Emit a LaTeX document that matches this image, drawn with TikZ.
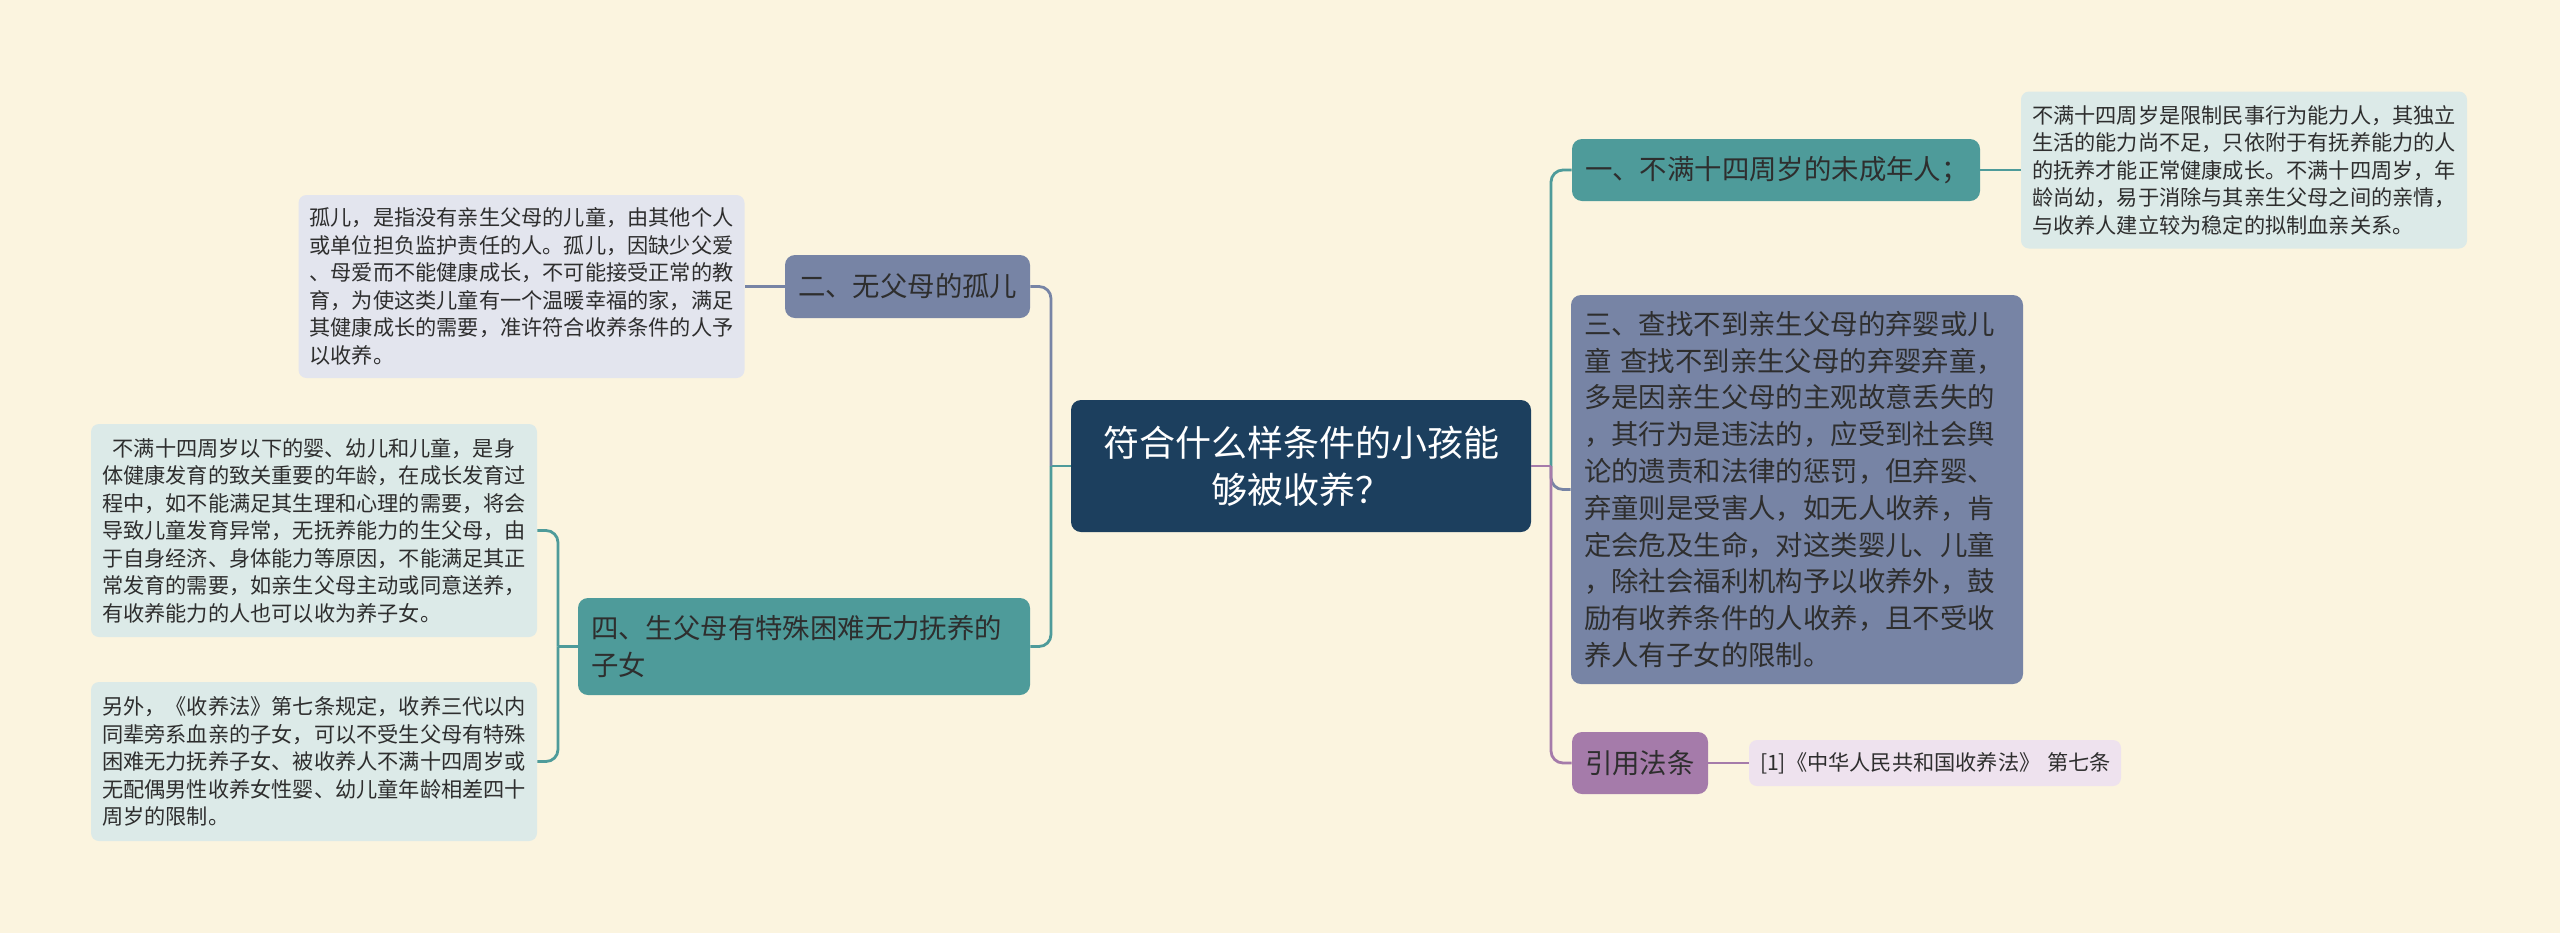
\documentclass[tikz,border=0pt]{standalone}
\usepackage{fontspec}
\setmainfont{Noto Sans CJK SC}
\definecolor{bg}{HTML}{FBF4DF}
\definecolor{navy}{HTML}{1C3F5E}
\definecolor{teal}{HTML}{4E9B9A}
\definecolor{slate}{HTML}{7784A5}
\definecolor{purp}{HTML}{A57BAA}
\definecolor{leafteal}{HTML}{DCEAE8}
\definecolor{leafslate}{HTML}{E3E5EE}
\definecolor{leafpurp}{HTML}{EEE2EE}
\definecolor{txt}{HTML}{2E2E2E}
\tikzset{
  rootnode/.style={fill=navy, text=white, rounded corners=5pt, align=center, inner sep=0pt,
    font=\fontsize{18pt}{23.5pt}\selectfont},
  mainnode/.style={rounded corners=5pt, inner xsep=6.5pt, inner ysep=0pt, align=left, text=txt,
    font=\fontsize{13.7pt}{18.4pt}\selectfont},
  leafnode/.style={rounded corners=4pt, inner xsep=5.5pt, inner ysep=0pt, align=left, text=txt,
    font=\fontsize{10.6pt}{13.75pt}\selectfont},
  conn/.style={line width=1.4pt},
  rc/.style={rounded corners=6pt}
}
\begin{document}
\begin{tikzpicture}[x=0.5pt,y=-0.5pt]
\fill[bg] (0,0) rectangle (2560,933);
\useasboundingbox (0,0) rectangle (2560,933);

% root
\node[rootnode, minimum width=230pt, minimum height=66pt] (c) at (1301,466) {符合什么样条件的小孩能\\够被收养？};

% right branches
\node[mainnode, fill=teal, text width=191pt, minimum height=31pt] (n1) at (1776,170) {一、不满十四周岁的未成年人；};
\node[mainnode, fill=slate, text width=213pt, minimum height=194.5pt] (n3) at (1797,489.5) {三、查找不到亲生父母的弃婴或儿\\童 查找不到亲生父母的弃婴弃童，\\多是因亲生父母的主观故意丢失的\\，其行为是违法的，应受到社会舆\\论的遗责和法律的惩罚，但弃婴、\\弃童则是受害人，如无人收养，肯\\定会危及生命，对这类婴儿、儿童\\，除社会福利机构予以收养外，鼓\\励有收养条件的人收养，且不受收\\养人有子女的限制。};
\node[mainnode, fill=purp, text width=55pt, minimum height=31pt] (n5) at (1640,763) {引用法条};

% left branches
\node[mainnode, fill=slate, text width=109.5pt, minimum height=31.5pt] (n2) at (907.5,286.5) {二、无父母的孤儿};
\node[mainnode, fill=teal, text width=213pt, minimum height=48.5pt] (n4) at (804,646.5) {四、生父母有特殊困难无力抚养的\\子女};

% leaves
\node[leafnode, fill=leafteal, text width=212pt, minimum height=78.5pt] (l1) at (2244,170) {不满十四周岁是限制民事行为能力人，其独立\\生活的能力尚不足，只依附于有抚养能力的人\\的抚养才能正常健康成长。不满十四周岁，年\\龄尚幼，易于消除与其亲生父母之间的亲情，\\与收养人建立较为稳定的拟制血亲关系。};
\node[leafnode, fill=leafpurp, text width=175pt, minimum height=23pt] (l5) at (1935,763) {[1]《中华人民共和国收养法》~第七条};
\node[leafnode, fill=leafslate, text width=212pt, minimum height=91.5pt] (l2) at (521.5,286.5) {孤儿，是指没有亲生父母的儿童，由其他个人\\或单位担负监护责任的人。孤儿，因缺少父爱\\、母爱而不能健康成长，不可能接受正常的教\\育，为使这类儿童有一个温暖幸福的家，满足\\其健康成长的需要，准许符合收养条件的人予\\以收养。};
\node[leafnode, fill=leafteal, text width=212pt, minimum height=106.5pt] (l4a) at (314,530.5) {\hspace{0.5em}不满十四周岁以下的婴、幼儿和儿童，是身\\体健康发育的致关重要的年龄，在成长发育过\\程中，如不能满足其生理和心理的需要，将会\\导致儿童发育异常，无抚养能力的生父母，由\\于自身经济、身体能力等原因，不能满足其正\\常发育的需要，如亲生父母主动或同意送养，\\有收养能力的人也可以收为养子女。};
\node[leafnode, fill=leafteal, text width=212pt, minimum height=79.5pt] (l4b) at (314,761.5) {另外，《收养法》第七条规定，收养三代以内\\同辈旁系血亲的子女，可以不受生父母有特殊\\困难无力抚养子女、被收养人不满十四周岁或\\无配偶男性收养女性婴、幼儿童年龄相差四十\\周岁的限制。};

% connectors
\coordinate (cl) at (1051,466);
\coordinate (cr) at (1551,466);
\coordinate (c4) at (558,646.5);

\draw[conn, teal] (c.west) -- (cl);
\draw[conn, slate, rc] (cl) |- (n2.east);
\draw[conn, teal, rc] (cl) |- (n4.east);

\draw[conn, slate, rc] (cr) |- (n3.west);
\draw[conn, purp, rc] (cr) |- (n5.west);
\draw[conn, teal, rc] (cr) |- (n1.west);
\draw[conn, purp] (c.east) -- (cr);

\draw[conn, teal] (n1.east) -- (l1.west);
\draw[conn, purp] (n5.east) -- (l5.west);
\draw[conn, slate] (n2.west) -- (l2.east);
\draw[conn, teal] (n4.west) -- (c4);
\draw[conn, teal, rc] (c4) |- (l4a.east);
\draw[conn, teal, rc] (c4) |- (l4b.east);
\end{tikzpicture}
\end{document}
